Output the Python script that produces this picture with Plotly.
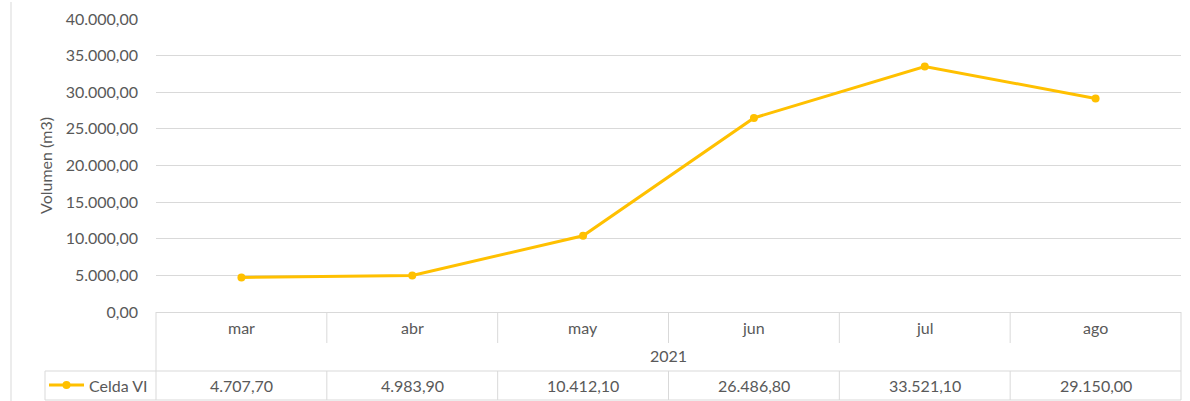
import plotly.graph_objects as go

months = ["mar", "abr", "may", "jun", "jul", "ago"]
year_label = "2021"
series_name = "Celda VI"
values = [4707.70, 4983.90, 10412.10, 26486.80, 33521.10, 29150.00]
y_ticks = [0, 5000, 10000, 15000, 20000, 25000, 30000, 35000, 40000]

W, H = 1190, 401
L, R, T, B = 156, 9, 19, 89
PW, PH = W - L - R, H - T - B

def px(x):
    return (x - L) / PW

def py(y):
    return (H - B - y) / PH

def fmt(v):
    s = f"{v:,.2f}"
    return s.replace(",", "X").replace(".", ",").replace("X", ".")

GOLD = "#FFC000"
GRID = "#D9D9D9"
TXT = "#595959"
FONT = "Lato"
FS = 16

n = len(months)
xs = [i + 0.5 for i in range(n)]

fig = go.Figure()
fig.add_trace(go.Scatter(
    x=xs, y=values, mode="lines+markers", name=series_name,
    line=dict(color=GOLD, width=3),
    marker=dict(color=GOLD, size=8),
    showlegend=False, cliponaxis=False, hoverinfo="skip",
))

shapes = []
annotations = []
line_style = dict(color=GRID, width=1)

top, mid1, mid2, bot = 312, 343, 371, 400
left_leg = 45
col_x = [L + i * PW / n for i in range(n + 1)]

shapes.append(dict(type="line", xref="paper", yref="paper", x0=px(left_leg), x1=px(W - R), y0=py(mid2), y1=py(mid2), line=line_style))
shapes.append(dict(type="line", xref="paper", yref="paper", x0=px(left_leg), x1=px(W - R), y0=py(bot), y1=py(bot), line=line_style))
for xv in (col_x[0], col_x[-1]):
    shapes.append(dict(type="line", xref="paper", yref="paper", x0=px(xv), x1=px(xv), y0=py(top), y1=py(bot), line=line_style))
shapes.append(dict(type="line", xref="paper", yref="paper", x0=px(left_leg), x1=px(left_leg), y0=py(mid2), y1=py(bot), line=line_style))
for xv in col_x[1:-1]:
    shapes.append(dict(type="line", xref="paper", yref="paper", x0=px(xv), x1=px(xv), y0=py(top), y1=py(mid1), line=line_style))
    shapes.append(dict(type="line", xref="paper", yref="paper", x0=px(xv), x1=px(xv), y0=py(mid2), y1=py(bot), line=line_style))
shapes.append(dict(type="line", xref="paper", yref="paper", x0=px(11), x1=px(11), y0=py(2), y1=py(H), line=line_style))

ly = 385
shapes.append(dict(type="line", xref="paper", yref="paper", x0=px(49), x1=px(84), y0=py(ly), y1=py(ly), line=dict(color=GOLD, width=3)))
shapes.append(dict(type="circle", xref="paper", yref="paper", x0=px(62.5), x1=px(70.5), y0=py(ly + 4), y1=py(ly - 4), fillcolor=GOLD, line=dict(color=GOLD, width=0)))
annotations.append(dict(xref="paper", yref="paper", x=px(87), y=py(ly), text=series_name, showarrow=False,
                        xanchor="left", yanchor="middle", font=dict(family=FONT, size=FS, color=TXT)))

for i, m in enumerate(months):
    annotations.append(dict(xref="x", yref="paper", x=xs[i], y=py(327), text=m, showarrow=False,
                            xanchor="center", yanchor="middle", font=dict(family=FONT, size=FS, color=TXT)))
    annotations.append(dict(xref="x", yref="paper", x=xs[i], y=py(ly), text=fmt(values[i]), showarrow=False,
                            xanchor="center", yanchor="middle", font=dict(family=FONT, size=FS, color=TXT)))
annotations.append(dict(xref="paper", yref="paper", x=0.5, y=py(355), text=year_label, showarrow=False,
                        xanchor="center", yanchor="middle", font=dict(family=FONT, size=FS, color=TXT)))

fig.update_layout(
    width=W, height=H,
    margin=dict(l=L, r=R, t=T, b=B),
    paper_bgcolor="white", plot_bgcolor="white",
    separators=",.",
    hovermode=False,
    xaxis=dict(range=[0, n], showgrid=False, showticklabels=False, zeroline=False, showline=False, fixedrange=True),
    yaxis=dict(range=[0, 40000], tickvals=y_ticks, tickformat=",.2f", showgrid=True, gridcolor=GRID, gridwidth=1,
               zeroline=True, zerolinecolor=GRID, zerolinewidth=1, showline=False, ticks="",
               tickfont=dict(family=FONT, size=FS, color=TXT), ticklabelstandoff=17, fixedrange=True,
               title=dict(text="Volumen (m3)", font=dict(family=FONT, size=FS, color=TXT), standoff=9)),
    shapes=shapes, annotations=annotations,
)

fig.write_html("out.html", config={"displayModeBar": False},
               post_script="document.body.style.margin='0';document.body.style.overflow='hidden';")
